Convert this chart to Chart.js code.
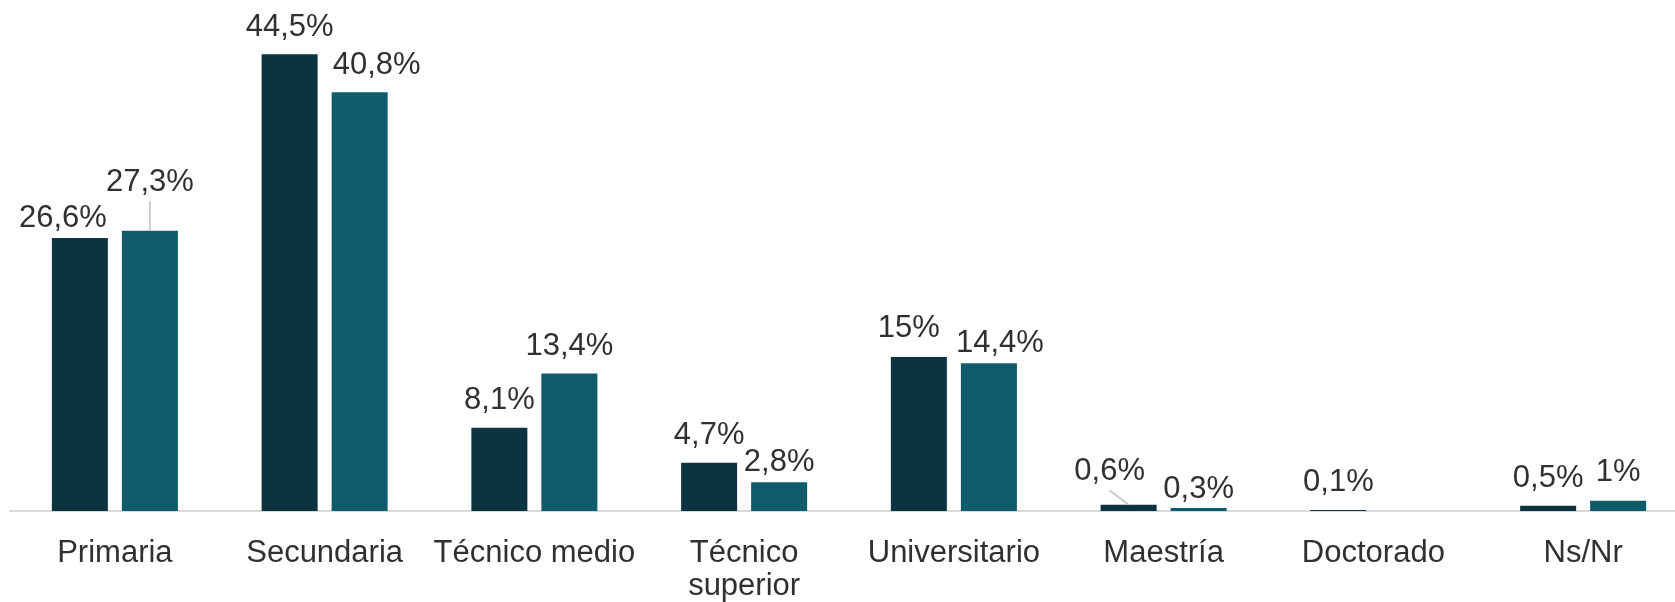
<!DOCTYPE html>
<html>
<head>
<meta charset="utf-8">
<script src="https://cdn.jsdelivr.net/npm/chart.js@4.4.1/dist/chart.umd.min.js"></script>
<style>
html, body { margin:0; padding:0; background:#fff; overflow:hidden; }
#wrap { position:relative; width:1700px; height:602px; }
</style>
</head>
<body>
<div id="wrap"><canvas id="chart"></canvas></div>
<script>
// Nivel educativo, dos series (%)
const categories = ['Primaria', 'Secundaria', 'Técnico medio', ['Técnico', 'superior'], 'Universitario', 'Maestría', 'Doctorado', 'Ns/Nr'];
const serie1 = [26.6, 44.5, 8.1, 4.7, 15, 0.6, 0.1, 0.5];
const serie2 = [27.3, 40.8, 13.4, 2.8, 14.4, 0.3, 0, 1];

const FONT = '"Liberation Sans", Arial, sans-serif';
const TEXT = '#303030';

// hand-placed label tweaks, as in the original (dataset-index)
const nudges = {
    '0-0': { dx: -17, dy: 8 },
    '1-0': { dx: 0, dy: -21, leader: true },
    '1-1': { dx: 17, dy: 0 },
    '1-3': { dx: 0, dy: 7.5 },
    '0-4': { dx: -10, dy: -2 },
    '1-4': { dx: 11, dy: 7.5 },
    '0-5': { dx: -19, dy: -6, leader: true },
    '1-5': { dx: 0, dy: 9 },
    '1-7': { dx: 0, dy: -1.5 }
};

function fmt(v){ return String(v).replace('.', ',') + '%'; }

const valueLabels = {
    id: 'valueLabels',
    afterDatasetsDraw(chart){
        const ctx = chart.ctx;
        ctx.save();
        ctx.font = '31px ' + FONT;
        ctx.textAlign = 'center';
        ctx.textBaseline = 'alphabetic';
        chart.data.datasets.forEach((ds, d) => {
            chart.getDatasetMeta(d).data.forEach((bar, i) => {
                const v = ds.data[i];
                if (!v) return;
                const n = nudges[d + '-' + i] || {};
                const x = bar.x + (n.dx || 0);
                const y = bar.y - 18.5 + (n.dy || 0);
                if (n.leader){
                    ctx.strokeStyle = '#bfbfbf';
                    ctx.lineWidth = 1.5;
                    ctx.beginPath();
                    ctx.moveTo(x, y + 10);
                    ctx.lineTo(bar.x, bar.y);
                    ctx.stroke();
                }
                ctx.fillStyle = TEXT;
                ctx.fillText(fmt(v), x, y);
            });
        });
        ctx.restore();
    }
};

new Chart(document.getElementById('chart'), {
    type: 'bar',
    data: {
        labels: categories,
        datasets: [
            { label: 'Serie 1', data: serie1, backgroundColor: '#0b3340', borderWidth: 0 },
            { label: 'Serie 2', data: serie2, backgroundColor: '#0f5b6c', borderWidth: 0 }
        ]
    },
    options: {
        responsive: true,
        maintainAspectRatio: false,
        animation: false,
        barPercentage: 0.8,
        categoryPercentage: 0.6676,
        layout: { padding: { top: 8, left: 10, right: 12, bottom: 0 } },
        plugins: { legend: { display: false }, tooltip: { enabled: false } },
        scales: {
            x: {
                grid: { display: false, drawTicks: false },
                border: { display: true, color: '#d9d9d9', width: 2 },
                ticks: {
                    color: TEXT,
                    font: { family: FONT, size: 31, lineHeight: 1.07 },
                    padding: 26,
                    maxRotation: 0,
                    autoSkip: false
                },
                afterFit(s){ s.height = 91; }
            },
            y: {
                display: false,
                min: 0,
                max: 49
            }
        }
    },
    plugins: [valueLabels]
});
</script>
</body>
</html>
